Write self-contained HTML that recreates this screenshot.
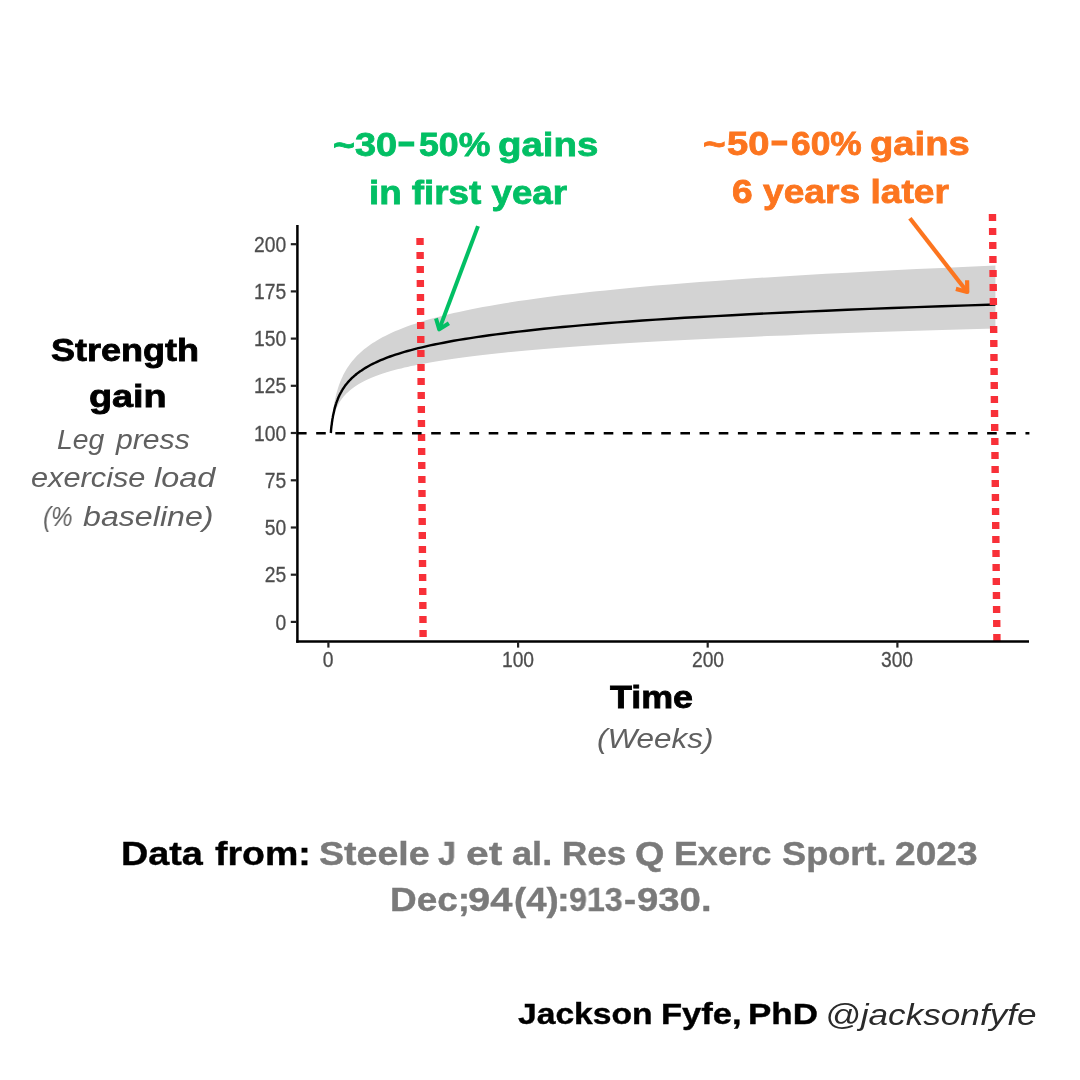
<!DOCTYPE html>
<html><head><meta charset="utf-8"><title>Strength gain over time</title>
<style>
html,body{margin:0;padding:0;background:#fff;}
p{margin:0;}
body{width:1080px;height:1080px;position:relative;overflow:hidden;font-family:"Liberation Sans",sans-serif;}
.t{position:absolute;white-space:nowrap;line-height:1;transform-origin:0 0;will-change:transform;}
svg{position:absolute;left:0;top:0;}
.yl{position:absolute;left:200.6px;-webkit-text-stroke:0.25px #4d4d4d;width:85.2px;text-align:right;font-size:19.3px;line-height:20px;color:#4d4d4d;transform:scaleY(1.1);transform-origin:100% 50%;will-change:transform;}
.xl{position:absolute;top:649.9px;-webkit-text-stroke:0.25px #4d4d4d;width:80px;text-align:center;font-size:19.3px;line-height:20px;color:#4d4d4d;transform:scaleY(1.1);transform-origin:50% 50%;will-change:transform;}
#g1a{left:332.53px;top:128px;font-size:33.7px;font-weight:700;font-style:normal;color:#02bf64;transform:scaleX(1.1107);-webkit-text-stroke:0.8px currentColor;}
#g1b{left:355.21px;top:128px;font-size:33.7px;font-weight:700;font-style:normal;color:#02bf64;transform:scaleX(1.1238);-webkit-text-stroke:0.8px currentColor;}
#g1c{left:397.44px;top:125px;font-size:33.7px;font-weight:700;font-style:normal;color:#02bf64;transform:scaleX(1.6757);-webkit-text-stroke:0.8px currentColor;}
#g1d{left:419.14px;top:128px;font-size:33.7px;font-weight:700;font-style:normal;color:#02bf64;transform:scaleX(1.0580);-webkit-text-stroke:0.8px currentColor;}
#g1e{left:497.60px;top:128px;font-size:33.7px;font-weight:700;font-style:normal;color:#02bf64;transform:scaleX(1.1402);-webkit-text-stroke:0.8px currentColor;}
#g2{left:369.10px;top:176px;font-size:33.7px;font-weight:700;font-style:normal;color:#02bf64;transform:scaleX(1.0905);-webkit-text-stroke:0.8px currentColor;}
#o1a{left:702.99px;top:127px;font-size:33.7px;font-weight:700;font-style:normal;color:#fc751f;transform:scaleX(1.1510);-webkit-text-stroke:0.8px currentColor;}
#o1b{left:727.40px;top:127px;font-size:33.7px;font-weight:700;font-style:normal;color:#fc751f;transform:scaleX(1.1323);-webkit-text-stroke:0.8px currentColor;}
#o1c{left:769.94px;top:124px;font-size:33.7px;font-weight:700;font-style:normal;color:#fc751f;transform:scaleX(1.6757);-webkit-text-stroke:0.8px currentColor;}
#o1d{left:791.39px;top:127px;font-size:33.7px;font-weight:700;font-style:normal;color:#fc751f;transform:scaleX(1.0498);-webkit-text-stroke:0.8px currentColor;}
#o1e{left:869.61px;top:127px;font-size:33.7px;font-weight:700;font-style:normal;color:#fc751f;transform:scaleX(1.1332);-webkit-text-stroke:0.8px currentColor;}
#o2{left:731.84px;top:175px;font-size:33.7px;font-weight:700;font-style:normal;color:#fc751f;transform:scaleX(1.1029);-webkit-text-stroke:0.8px currentColor;}
#s1{left:51.04px;top:335px;font-size:31.5px;font-weight:700;font-style:normal;color:#000;transform:scaleX(1.1437);-webkit-text-stroke:0.8px currentColor;}
#s2{left:89.12px;top:381px;font-size:31.5px;font-weight:700;font-style:normal;color:#000;transform:scaleX(1.2001);-webkit-text-stroke:0.8px currentColor;}
#l1a{left:57.16px;top:427px;font-size:27px;font-weight:400;font-style:italic;color:#606060;transform:scaleX(1.0492);}
#l1b{left:115.74px;top:427px;font-size:27px;font-weight:400;font-style:italic;color:#606060;transform:scaleX(1.1167);}
#l2a{left:30.74px;top:465px;font-size:27px;font-weight:400;font-style:italic;color:#606060;transform:scaleX(1.1381);}
#l2b{left:154.09px;top:465px;font-size:27px;font-weight:400;font-style:italic;color:#606060;transform:scaleX(1.2006);}
#l3a{left:43.47px;top:504px;font-size:27px;font-weight:400;font-style:italic;color:#606060;transform:scaleX(0.8924);}
#l3b{left:83.30px;top:504px;font-size:27px;font-weight:400;font-style:italic;color:#606060;transform:scaleX(1.1916);}
#t1{left:610.00px;top:682px;font-size:31.2px;font-weight:700;font-style:normal;color:#000;transform:scaleX(1.1500);-webkit-text-stroke:0.8px currentColor;}
#t2{left:597.03px;top:726px;font-size:27px;font-weight:400;font-style:italic;color:#606060;transform:scaleX(1.1649);}
#d1{left:120.94px;top:837px;font-size:33.1px;font-weight:700;font-style:normal;color:#000;transform:scaleX(1.1419);-webkit-text-stroke:0.4px currentColor;}
#d1b{left:215.01px;top:837px;font-size:33.1px;font-weight:700;font-style:normal;color:#000;transform:scaleX(1.1339);-webkit-text-stroke:0.4px currentColor;}
#d2a{left:319.11px;top:837px;font-size:33.1px;font-weight:700;font-style:normal;color:#7a7a7a;transform:scaleX(1.1354);-webkit-text-stroke:0.4px currentColor;}
#d2b{left:438.30px;top:837px;font-size:33.1px;font-weight:700;font-style:normal;color:#7a7a7a;transform:scaleX(0.9728);-webkit-text-stroke:0.4px currentColor;}
#d2c{left:465.63px;top:837px;font-size:33.1px;font-weight:700;font-style:normal;color:#7a7a7a;transform:scaleX(1.2325);-webkit-text-stroke:0.4px currentColor;}
#d2d{left:512.24px;top:837px;font-size:33.1px;font-weight:700;font-style:normal;color:#7a7a7a;transform:scaleX(1.0924);-webkit-text-stroke:0.4px currentColor;}
#d2e{left:561.72px;top:837px;font-size:33.1px;font-weight:700;font-style:normal;color:#7a7a7a;transform:scaleX(1.0556);-webkit-text-stroke:0.4px currentColor;}
#d2f{left:634.92px;top:837px;font-size:33.1px;font-weight:700;font-style:normal;color:#7a7a7a;transform:scaleX(1.1433);-webkit-text-stroke:0.4px currentColor;}
#d2g{left:674.16px;top:837px;font-size:33.1px;font-weight:700;font-style:normal;color:#7a7a7a;transform:scaleX(1.0814);-webkit-text-stroke:0.4px currentColor;}
#d2h{left:781.93px;top:837px;font-size:33.1px;font-weight:700;font-style:normal;color:#7a7a7a;transform:scaleX(1.0940);-webkit-text-stroke:0.4px currentColor;}
#d2i{left:895.24px;top:837px;font-size:33.1px;font-weight:700;font-style:normal;color:#7a7a7a;transform:scaleX(1.1215);-webkit-text-stroke:0.4px currentColor;}
#d3a{left:389.69px;top:883px;font-size:33.1px;font-weight:700;font-style:normal;color:#7a7a7a;transform:scaleX(1.1161);-webkit-text-stroke:0.4px currentColor;}
#d3b{left:467.96px;top:883px;font-size:33.1px;font-weight:700;font-style:normal;color:#7a7a7a;transform:scaleX(1.2030);-webkit-text-stroke:0.4px currentColor;}
#d3c{left:514.08px;top:883px;font-size:33.1px;font-weight:700;font-style:normal;color:#7a7a7a;transform:scaleX(1.1059);-webkit-text-stroke:0.4px currentColor;}
#d3d{left:557.40px;top:883px;font-size:33.1px;font-weight:700;font-style:normal;color:#7a7a7a;transform:scaleX(1.1601);-webkit-text-stroke:0.4px currentColor;}
#d3e{left:568.59px;top:883px;font-size:33.1px;font-weight:700;font-style:normal;color:#7a7a7a;transform:scaleX(0.9725);-webkit-text-stroke:0.4px currentColor;}
#d3f{left:624.07px;top:883px;font-size:33.1px;font-weight:700;font-style:normal;color:#7a7a7a;transform:scaleX(1.0919);-webkit-text-stroke:0.4px currentColor;}
#d3g{left:636.60px;top:883px;font-size:33.1px;font-weight:700;font-style:normal;color:#7a7a7a;transform:scaleX(1.1574);-webkit-text-stroke:0.4px currentColor;}
#j1a{left:518.30px;top:999px;font-size:30px;font-weight:700;font-style:normal;color:#000;transform:scaleX(1.1212);-webkit-text-stroke:0.4px currentColor;}
#j1b{left:660.84px;top:999px;font-size:30px;font-weight:700;font-style:normal;color:#000;transform:scaleX(1.1526);-webkit-text-stroke:0.4px currentColor;}
#j1c{left:747.62px;top:999px;font-size:30px;font-weight:700;font-style:normal;color:#000;transform:scaleX(1.1649);-webkit-text-stroke:0.4px currentColor;}
#j2{left:824.70px;top:1000px;font-size:29.5px;font-weight:400;font-style:italic;color:#2a2a2a;transform:scaleX(1.1918);}
</style></head><body>
<svg width="1080" height="1080" viewBox="0 0 1080 1080">
<path d="M330.8,433.0 330.9,431.9 331.0,430.7 331.0,429.5 331.1,428.3 331.2,427.1 331.3,425.9 331.4,424.7 331.5,423.5 331.7,422.3 331.8,421.1 331.9,419.9 332.0,418.7 332.2,417.5 332.3,416.3 332.4,415.1 332.6,413.9 332.8,412.7 332.9,411.5 333.1,410.3 333.3,409.1 333.5,407.9 333.7,406.7 333.9,405.5 334.1,404.3 334.3,403.1 334.5,401.9 334.8,400.7 335.0,399.5 335.3,398.3 335.6,397.1 335.8,395.9 336.1,394.7 336.4,393.5 336.8,392.3 337.1,391.1 337.5,389.9 337.8,388.7 338.2,387.5 338.6,386.3 339.0,385.1 339.4,383.9 339.9,382.7 340.4,381.5 340.9,380.3 341.4,379.1 341.9,377.9 342.5,376.7 343.0,375.5 343.6,374.3 344.3,373.1 344.9,371.9 345.6,370.7 346.3,369.5 347.1,368.3 347.9,367.1 348.7,365.9 349.5,364.7 350.4,363.5 351.3,362.3 352.3,361.1 353.3,359.9 354.3,358.7 355.4,357.5 356.5,356.3 357.7,355.1 358.9,353.9 360.2,352.7 361.6,351.5 363.0,350.3 364.4,349.1 365.9,347.9 367.5,346.7 369.2,345.5 370.9,344.3 372.7,343.1 374.6,341.9 376.5,340.7 378.6,339.5 380.7,338.3 382.9,337.1 385.2,335.9 387.6,334.7 390.1,333.5 392.7,332.3 395.5,331.1 398.3,329.9 401.3,328.7 404.4,327.5 407.6,326.3 411.0,325.1 414.5,323.9 418.2,322.7 422.0,321.5 426.0,320.3 430.1,319.1 434.4,317.9 439.0,316.7 443.7,315.5 448.6,314.3 453.7,313.1 459.0,311.9 464.6,310.7 470.4,309.5 476.5,308.3 482.8,307.1 489.4,305.9 496.2,304.7 503.4,303.5 510.8,302.3 518.6,301.1 526.7,299.9 535.2,298.7 544.0,297.5 553.2,296.3 562.8,295.1 572.8,293.9 583.3,292.7 594.1,291.5 605.5,290.4 617.3,289.2 629.6,288.0 642.5,286.8 655.9,285.6 669.9,284.4 684.5,283.2 699.7,282.1 715.6,280.9 732.1,279.7 749.4,278.5 767.3,277.4 786.1,276.2 805.7,275.0 826.0,273.8 847.3,272.7 869.5,271.5 892.6,270.3 916.7,269.1 941.9,268.0 968.1,266.8 995.4,265.6 L995.4,328.4 968.1,329.2 941.9,330.0 916.7,330.7 892.6,331.5 869.5,332.3 847.3,333.0 826.0,333.8 805.7,334.6 786.1,335.4 767.3,336.1 749.4,336.9 732.1,337.7 715.6,338.4 699.7,339.2 684.5,340.0 669.9,340.7 655.9,341.5 642.5,342.3 629.6,343.0 617.3,343.8 605.5,344.6 594.1,345.3 583.3,346.1 572.8,346.8 562.8,347.5 553.2,348.3 544.0,349.0 535.2,349.8 526.7,350.5 518.6,351.3 510.8,352.0 503.4,352.7 496.2,353.5 489.4,354.2 482.8,355.0 476.5,355.7 470.4,356.5 464.6,357.2 459.0,358.0 453.7,358.7 448.6,359.4 443.7,360.2 439.0,360.9 434.4,361.7 430.1,362.4 426.0,363.2 422.0,363.9 418.2,364.6 414.5,365.4 411.0,366.1 407.6,366.9 404.4,367.6 401.3,368.4 398.3,369.1 395.5,369.8 392.7,370.6 390.1,371.3 387.6,372.1 385.2,372.8 382.9,373.6 380.7,374.3 378.6,375.1 376.5,375.8 374.6,376.5 372.7,377.3 370.9,378.0 369.2,378.8 367.5,379.5 365.9,380.3 364.4,381.0 363.0,381.7 361.6,382.5 360.2,383.2 358.9,384.0 357.7,384.7 356.5,385.5 355.4,386.2 354.3,387.0 353.3,387.7 352.3,388.4 351.3,389.2 350.4,389.9 349.5,390.7 348.7,391.4 347.9,392.2 347.1,392.9 346.3,393.6 345.6,394.4 344.9,395.1 344.3,395.9 343.6,396.6 343.0,397.4 342.5,398.1 341.9,398.8 341.4,399.6 340.9,400.3 340.4,401.1 339.9,401.8 339.4,402.6 339.0,403.3 338.6,404.1 338.2,404.8 337.8,405.5 337.5,406.3 337.1,407.0 336.8,407.8 336.4,408.5 336.1,409.3 335.8,410.0 335.6,410.7 335.3,411.5 335.0,412.2 334.8,413.0 334.5,413.7 334.3,414.5 334.1,415.2 333.9,415.9 333.7,416.7 333.5,417.4 333.3,418.2 333.1,418.9 332.9,419.7 332.8,420.4 332.6,421.2 332.4,421.9 332.3,422.6 332.2,423.4 332.0,424.1 331.9,424.9 331.8,425.6 331.7,426.4 331.5,427.1 331.4,427.8 331.3,428.6 331.2,429.3 331.1,430.1 331.0,430.8 331.0,431.6 330.9,432.3 330.8,433.0Z" fill="#d3d3d3"/>
<path d="M330.8,433.0 330.9,432.1 331.0,431.2 331.0,430.3 331.1,429.4 331.2,428.4 331.3,427.5 331.4,426.6 331.5,425.7 331.7,424.8 331.8,423.8 331.9,422.9 332.0,422.0 332.2,421.1 332.3,420.1 332.4,419.2 332.6,418.3 332.8,417.4 332.9,416.5 333.1,415.5 333.3,414.6 333.5,413.7 333.7,412.8 333.9,411.9 334.1,410.9 334.3,410.0 334.5,409.1 334.8,408.2 335.0,407.2 335.3,406.3 335.6,405.4 335.8,404.5 336.1,403.6 336.4,402.6 336.8,401.7 337.1,400.8 337.5,399.9 337.8,398.9 338.2,398.0 338.6,397.1 339.0,396.2 339.4,395.3 339.9,394.3 340.4,393.4 340.9,392.5 341.4,391.6 341.9,390.6 342.5,389.7 343.0,388.8 343.6,387.9 344.3,387.0 344.9,386.0 345.6,385.1 346.3,384.2 347.1,383.3 347.9,382.3 348.7,381.4 349.5,380.5 350.4,379.6 351.3,378.7 352.3,377.7 353.3,376.8 354.3,375.9 355.4,375.0 356.5,374.0 357.7,373.1 358.9,372.2 360.2,371.3 361.6,370.4 363.0,369.4 364.4,368.5 365.9,367.6 367.5,366.7 369.2,365.7 370.9,364.8 372.7,363.9 374.6,363.0 376.5,362.1 378.6,361.1 380.7,360.2 382.9,359.3 385.2,358.4 387.6,357.4 390.1,356.5 392.7,355.6 395.5,354.7 398.3,353.8 401.3,352.8 404.4,351.9 407.6,351.0 411.0,350.1 414.5,349.1 418.2,348.2 422.0,347.3 426.0,346.4 430.1,345.4 434.4,344.5 439.0,343.6 443.7,342.7 448.6,341.8 453.7,340.8 459.0,339.9 464.6,339.0 470.4,338.1 476.5,337.1 482.8,336.2 489.4,335.3 496.2,334.4 503.4,333.5 510.8,332.5 518.6,331.6 526.7,330.7 535.2,329.8 544.0,328.8 553.2,327.9 562.8,327.0 572.8,326.1 583.3,325.1 594.1,324.2 605.5,323.3 617.3,322.4 629.6,321.5 642.5,320.5 655.9,319.6 669.9,318.7 684.5,317.8 699.7,317.0 715.6,316.1 732.1,315.2 749.4,314.3 767.3,313.4 786.1,312.5 805.7,311.6 826.0,310.7 847.3,309.8 869.5,308.9 892.6,308.0 916.7,307.1 941.9,306.3 968.1,305.4 995.4,304.5" fill="none" stroke="#000" stroke-width="2.4" stroke-linejoin="round"/>
<line x1="420.0" y1="238" x2="423.1" y2="637.5" stroke="#f83038" stroke-width="7.4" stroke-dasharray="7 7"/>
<line x1="992.45" y1="214" x2="996.95" y2="641.6" stroke="#f83038" stroke-width="7.4" stroke-dasharray="7 7"/>
<line x1="297" y1="433.3" x2="1029.4" y2="433.3" stroke="#000" stroke-width="2.6" stroke-dasharray="9.6 9.57"/>
<line x1="297.4" y1="225" x2="297.4" y2="642.8" stroke="#000" stroke-width="2.5"/>
<line x1="296.2" y1="641.6" x2="1029" y2="641.6" stroke="#000" stroke-width="2.5"/>
<line x1="290.8" y1="621.9" x2="297" y2="621.9" stroke="#222" stroke-width="2.2"/>
<line x1="290.8" y1="574.7" x2="297" y2="574.7" stroke="#222" stroke-width="2.2"/>
<line x1="290.8" y1="527.5" x2="297" y2="527.5" stroke="#222" stroke-width="2.2"/>
<line x1="290.8" y1="480.3" x2="297" y2="480.3" stroke="#222" stroke-width="2.2"/>
<line x1="290.8" y1="433.0" x2="297" y2="433.0" stroke="#222" stroke-width="2.2"/>
<line x1="290.8" y1="385.8" x2="297" y2="385.8" stroke="#222" stroke-width="2.2"/>
<line x1="290.8" y1="338.6" x2="297" y2="338.6" stroke="#222" stroke-width="2.2"/>
<line x1="290.8" y1="291.4" x2="297" y2="291.4" stroke="#222" stroke-width="2.2"/>
<line x1="290.8" y1="244.2" x2="297" y2="244.2" stroke="#222" stroke-width="2.2"/>
<line x1="328.4" y1="641.5" x2="328.4" y2="647.6" stroke="#222" stroke-width="2.2"/>
<line x1="518.1" y1="641.5" x2="518.1" y2="647.6" stroke="#222" stroke-width="2.2"/>
<line x1="707.7" y1="641.5" x2="707.7" y2="647.6" stroke="#222" stroke-width="2.2"/>
<line x1="897.4" y1="641.5" x2="897.4" y2="647.6" stroke="#222" stroke-width="2.2"/>
<line x1="478" y1="226.1" x2="439.2" y2="329.4" stroke="#02bf64" stroke-width="4.0"/><polyline points="448.9,323.2 439.2,329.4 436.0,318.4" fill="none" stroke="#02bf64" stroke-width="4.0" stroke-linejoin="round"/>
<line x1="909.9" y1="218.3" x2="967.3" y2="292.0" stroke="#fc751f" stroke-width="4.2"/><polyline points="967.1,280.2 967.3,292.0 955.9,288.9" fill="none" stroke="#fc751f" stroke-width="4.2" stroke-linejoin="round"/>
</svg>
<div class="yl" style="top:612.5px">0</div>
<div class="yl" style="top:565.3px">25</div>
<div class="yl" style="top:518.1px">50</div>
<div class="yl" style="top:470.9px">75</div>
<div class="yl" style="top:423.6px">100</div>
<div class="yl" style="top:376.4px">125</div>
<div class="yl" style="top:329.2px">150</div>
<div class="yl" style="top:282.0px">175</div>
<div class="yl" style="top:234.8px">200</div>
<div class="xl" style="left:288.4px">0</div>
<div class="xl" style="left:478.1px">100</div>
<div class="xl" style="left:667.7px">200</div>
<div class="xl" style="left:857.4px">300</div>
<div class="callout" id="callout-green"><div><span class="t" id="g1a">~</span><span class="t" id="g1b">30</span><span class="t" id="g1c">-</span><span class="t" id="g1d">50%</span> <span class="t" id="g1e">gains</span></div><div><span class="t" id="g2">in first year</span></div></div>
<div class="callout" id="callout-orange"><div><span class="t" id="o1a">~</span><span class="t" id="o1b">50</span><span class="t" id="o1c">-</span><span class="t" id="o1d">60%</span> <span class="t" id="o1e">gains</span></div><div><span class="t" id="o2">6 years later</span></div></div>
<div class="axis-title" id="y-title"><div><span class="t" id="s1">Strength</span></div><div><span class="t" id="s2">gain</span></div><div><span class="t" id="l1a">Leg</span> <span class="t" id="l1b">press</span></div><div><span class="t" id="l2a">exercise</span> <span class="t" id="l2b">load</span></div><div><span class="t" id="l3a">(%</span> <span class="t" id="l3b">baseline)</span></div></div>
<div class="axis-title" id="x-title"><div><span class="t" id="t1">Time</span></div><div><span class="t" id="t2">(Weeks)</span></div></div>
<p id="source"><span><span class="t" id="d1">Data</span> <span class="t" id="d1b">from:</span> <span class="t" id="d2a">Steele</span> <span class="t" id="d2b">J</span> <span class="t" id="d2c">et</span> <span class="t" id="d2d">al.</span> <span class="t" id="d2e">Res</span> <span class="t" id="d2f">Q</span> <span class="t" id="d2g">Exerc</span> <span class="t" id="d2h">Sport.</span> <span class="t" id="d2i">2023</span></span> <span><span class="t" id="d3a">Dec;</span><span class="t" id="d3b">94</span><span class="t" id="d3c">(4)</span><span class="t" id="d3d">:</span><span class="t" id="d3e">913</span><span class="t" id="d3f">-</span><span class="t" id="d3g">930.</span></span></p>
<p id="credit"><span class="t" id="j1a">Jackson</span> <span class="t" id="j1b">Fyfe,</span> <span class="t" id="j1c">PhD</span> <span class="t" id="j2">@jacksonfyfe</span></p>
</body></html>
